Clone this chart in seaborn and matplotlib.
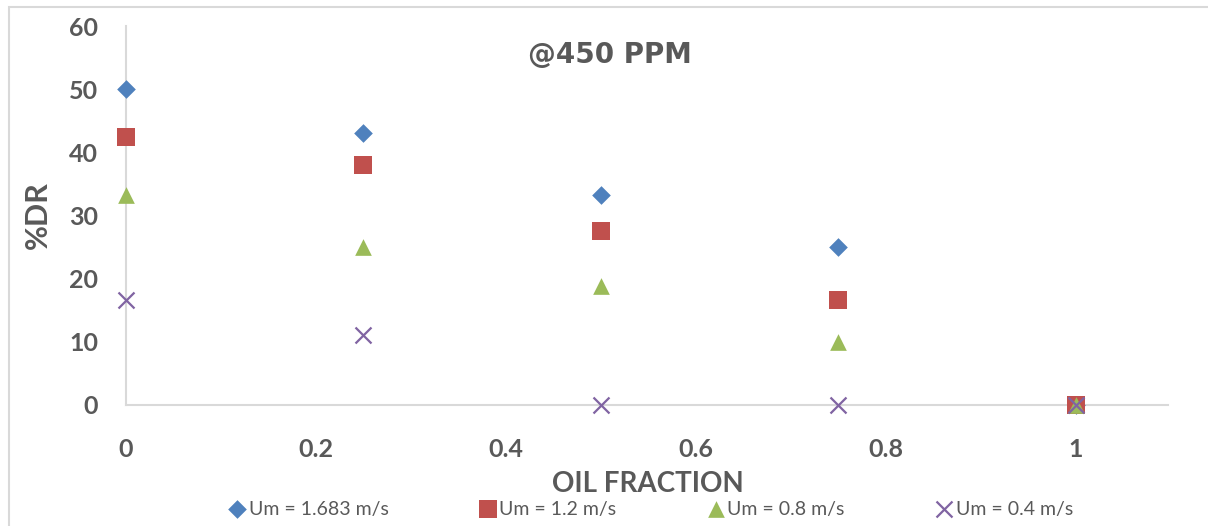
import matplotlib
matplotlib.use("Agg")
import matplotlib.pyplot as plt
import seaborn as sns
from matplotlib.patches import Rectangle

# ---- data ----
oil_fraction = [0, 0.25, 0.5, 0.75, 1]
dr_um_1683 = [50, 43, 33.3, 25, 0]
dr_um_12 = [42.5, 38, 27.5, 16.7, 0]
dr_um_08 = [33.3, 25, 18.8, 10, 0]
dr_um_04 = [16.7, 11.1, 0, 0, 0]
series_labels = ["Um = 1.683 m/s", "Um = 1.2 m/s", "Um = 0.8 m/s", "Um = 0.4 m/s"]
x_ticks = [0, 0.2, 0.4, 0.6, 0.8, 1]
x_tick_labels = ["0", "0.2", "0.4", "0.6", "0.8", "1"]
y_ticks = [0, 10, 20, 30, 40, 50, 60]
title_text = "@450 PPM"
x_label = "OIL FRACTION"
y_label = "%DR"

sns.set_theme(style="white")
plt.rcParams['font.family'] = ['Lato', 'DejaVu Sans']

W, H = 1208, 526
fig = plt.figure(figsize=(W / 100, H / 100), dpi=100)
ax = fig.add_axes([126 / W, 1 - 405 / H, (1168 - 126) / W, (405 - 26) / H])

grey = "#D9D9D9"
txt = "#595959"
colors = ["#4F81BD", "#C0504D", "#9BBB59", "#8064A2"]
markers = ["D", "s", "^", "x"]
sizes = [9.5, 13, 12, 11.5]
series = [dr_um_1683, dr_um_12, dr_um_08, dr_um_04]

for vals, lab, c, m, ms in zip(series, series_labels, colors, markers, sizes):
    if m == "x":
        sns.scatterplot(x=oil_fraction, y=vals, ax=ax, marker=m, color=c, s=ms ** 2,
                        linewidth=1.6, label=lab, clip_on=False, zorder=5)
    else:
        sns.scatterplot(x=oil_fraction, y=vals, ax=ax, marker=m, color=c, s=ms ** 2,
                        linewidth=0, edgecolor=c, label=lab, clip_on=False, zorder=5)

ax.set_xlim(0, 1.097)
ax.set_ylim(0, 60)
ax.set_xticks(x_ticks)
ax.set_xticklabels(x_tick_labels)
ax.set_yticks(y_ticks)

for s in ["top", "right"]:
    ax.spines[s].set_visible(False)
for s in ["left", "bottom"]:
    ax.spines[s].set_color(grey)
    ax.spines[s].set_linewidth(1.5)
    ax.spines[s].set_zorder(1)

ax.tick_params(axis="both", direction="inout", length=12, width=1.5, color=grey,
               labelsize=18, labelcolor=txt, pad=14)
ax.tick_params(axis="x", pad=18)
for lbl in ax.get_xticklabels() + ax.get_yticklabels():
    lbl.set_fontweight("bold")

fig.text(610 / W, 1 - 55 / H, title_text, ha="center", va="center",
         fontsize=20, fontweight="bold", color=txt, family=["DejaVu Sans"])

fig.text(648 / W, 1 - 484 / H, x_label, ha="center", va="center", fontsize=20,
         fontweight="bold", color=txt, zorder=10)
fig.text(38 / W, 1 - 215 / H, y_label, ha="center", va="center", rotation=90,
         fontsize=22, fontweight="bold", color=txt)

handles, labels = ax.get_legend_handles_labels()
ax.get_legend().remove()
leg = fig.legend(handles, labels, loc="center", bbox_to_anchor=(650 / W, 1 - 509 / H),
                 ncol=4, frameon=False, fontsize=14, handletextpad=0.1,
                 columnspacing=4.6, handlelength=1.0, labelcolor=txt,
                 borderpad=0.1)
leg.set_zorder(5)

fig.patches.append(Rectangle((9 / W, -0.05), 1.2, 1 - 7 / H + 0.05, transform=fig.transFigure,
                             fill=False, edgecolor=grey, linewidth=1.5))

fig.savefig("out.png", dpi=100)
